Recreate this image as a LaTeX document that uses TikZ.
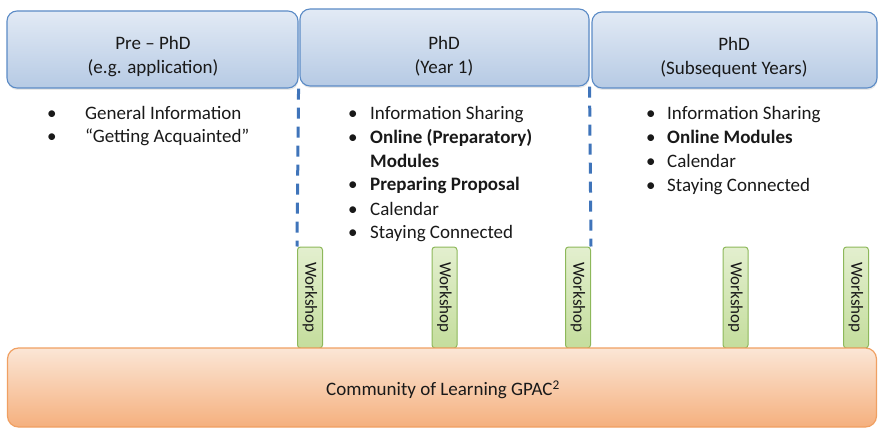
\documentclass[tikz,border=0pt]{standalone}
\usepackage{fontspec}
\setmainfont{Carlito}
\usepackage{graphicx}
\usetikzlibrary{shadows}
\definecolor{hdrtop}{HTML}{E2EAF5}
\definecolor{hdrbot}{HTML}{B6CAE4}
\definecolor{hdrline}{HTML}{5B8BC6}
\definecolor{wstop}{HTML}{E3EFCF}
\definecolor{wsbot}{HTML}{C4DD9C}
\definecolor{wsline}{HTML}{8DB85A}
\definecolor{cltop}{HTML}{FBE6D6}
\definecolor{clbot}{HTML}{F5B07E}
\definecolor{clline}{HTML}{F0A062}
\definecolor{dashblue}{HTML}{3F74BA}
\tikzset{%
    hdr/.style={draw=hdrline,line width=1.1pt,rounded corners=10pt,top color=hdrtop,bottom color=hdrbot,
        inner sep=0pt,drop shadow={shadow xshift=0.5pt,shadow yshift=-2pt,opacity=0.18}},
    ws/.style={draw=wsline,line width=1pt,rounded corners=3pt,top color=wstop,bottom color=wsbot,
        minimum width=25pt,minimum height=101pt,inner sep=0pt,font=\fontsize{17}{20}\selectfont,text=black!90},
    cl/.style={draw=clline,line width=1.2pt,rounded corners=11pt,top color=cltop,bottom color=clbot,inner sep=0pt},
    txt/.style={inner sep=0pt,align=center,font=\fontsize{19}{24}\selectfont,text=black!90},
    lst/.style={inner sep=0pt,anchor=north west,font=\fontsize{19}{24}\selectfont,text=black!90},
    sep/.style={draw=dashblue,line width=3pt,dash pattern=on 11pt off 8pt}
}
\begin{document}
\begin{tikzpicture}[x=1pt,y=-1pt]
    \useasboundingbox (0,0) rectangle (879,428);

    % phase headers
    \node[hdr,minimum width=291pt,minimum height=77pt] (hdr1) at (152.5,49.5){};
    \node[hdr,minimum width=289pt,minimum height=77pt] (hdr2) at (444.5,47.5){};
    \node[hdr,minimum width=285pt,minimum height=76pt] (hdr3) at (734.5,50){};
    \node[txt] (t1) at (153,57) {Pre -- PhD\\(e.g. application)};
    \node[txt] (t2) at (444,56) {PhD\\(Year 1)};
    \node[txt] (t3) at (734,57) {PhD\\(Subsequent Years)};

    % what happens in each phase
    \node[lst] (l1) at (47,102) {\begin{tabular}{@{}l@{}l@{}}
        \makebox[38pt][l]{\textbullet} & General Information\\
        \makebox[38pt][l]{\textbullet} & ``Getting Acquainted''
    \end{tabular}};
    \node[lst] (l2) at (348,102) {\begin{tabular}{@{}l@{}l@{}}
        \makebox[22pt][l]{\textbullet} & Information Sharing\\
        \makebox[22pt][l]{\textbullet} & \textbf{Online (Preparatory)}\\
        & \textbf{Modules}\\
        \makebox[22pt][l]{\textbullet} & \textbf{Preparing Proposal}\\
        \makebox[22pt][l]{\textbullet} & Calendar\\
        \makebox[22pt][l]{\textbullet} & Staying Connected
    \end{tabular}};
    \node[lst] (l3) at (646,102) {\begin{tabular}{@{}l@{}l@{}}
        \makebox[21pt][l]{\textbullet} & Information Sharing\\
        \makebox[21pt][l]{\textbullet} & \textbf{Online Modules}\\
        \makebox[21pt][l]{\textbullet} & Calendar\\
        \makebox[21pt][l]{\textbullet} & Staying Connected
    \end{tabular}};

    % workshops
    \node[ws] (ws1) at (310,297.5){\rotatebox{-90}{Workshop}};
    \node[ws] (ws2) at (444.5,297.5){\rotatebox{-90}{Workshop}};
    \node[ws] (ws3) at (578,297.5){\rotatebox{-90}{Workshop}};
    \node[ws] (ws4) at (735.5,297.5){\rotatebox{-90}{Workshop}};
    \node[ws] (ws5) at (856,297.5){\rotatebox{-90}{Workshop}};

    \draw[sep] (hdr1.south east) -- (ws1.north west);
    \draw[sep] (hdr2.south east) -- (ws3.north east);

    % community bar
    \node[cl,minimum width=869pt,minimum height=79pt] (cl) at (442,387.5){};
    \node[txt] (tcl) at (443,390) {Community of Learning GPAC\textsuperscript{2}};
\end{tikzpicture}
\end{document}
